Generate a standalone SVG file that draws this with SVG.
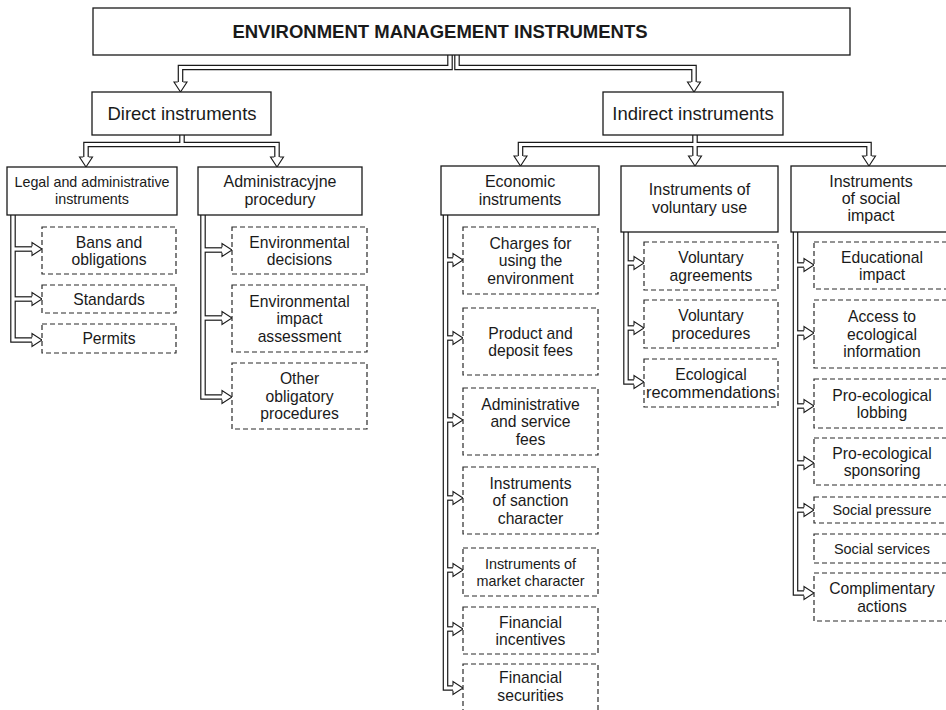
<svg xmlns="http://www.w3.org/2000/svg" xmlns:xlink="http://www.w3.org/1999/xlink" width="946" height="710" viewBox="0 0 946 710">
  <style>
    .box { fill: #fff; stroke: #1a1a1a; stroke-width: 1.3; }
    .dbox { fill: #fff; stroke: #2a2a2a; stroke-width: 1.2; stroke-dasharray: 5 3; }
    .po { fill: none; stroke: #1a1a1a; stroke-width: 5.6; stroke-linejoin: miter; }
    .pi { fill: none; stroke: #fff; stroke-width: 3.2; stroke-linejoin: miter; }
    .hd { fill: #fff; stroke: #1a1a1a; stroke-width: 1.1; stroke-linejoin: miter; }
    text { font-family: "Liberation Sans", Arial, sans-serif; fill: #1a1a1a; text-anchor: middle; }
    .title { font-size: 18.5px; font-weight: bold; }
    .t1 { font-size: 18.5px; }
    .t2 { font-size: 16px; }
    .t2s { font-size: 14.3px; }
    .t3 { font-size: 15.7px; }
    .t3s { font-size: 14.4px; }
  </style>
  <defs>
    <!-- centre lines of all double-line connectors -->
    <g id="pipes">
      <path d="M450 54 V67.5 H180.5 V82"/>
      <path d="M457 54 V67.5 H694 V82"/>
      <path d="M182 134 V144.5"/>
      <path d="M86 157 V144.5 H277 V157"/>
      <path d="M695 134 V156"/>
      <path d="M520.5 156 V144.5 H869 V156"/>
      <!-- legal and administrative instruments -->
      <path d="M13 213 V340 H32"/>
      <path d="M13 249 H32"/>
      <path d="M13 299 H32"/>
      <!-- administrative procedures -->
      <path d="M203 213 V397 H222"/>
      <path d="M203 250 H222"/>
      <path d="M203 318 H222"/>
      <!-- economic instruments -->
      <path d="M445.5 213 V688 H453"/>
      <path d="M445.5 260 H453"/>
      <path d="M445.5 338 H453"/>
      <path d="M445.5 420 H453"/>
      <path d="M445.5 498 H453"/>
      <path d="M445.5 570 H453"/>
      <path d="M445.5 629 H453"/>
      <!-- voluntary use -->
      <path d="M626 230 V382 H634"/>
      <path d="M626 263 H634"/>
      <path d="M626 328 H634"/>
      <!-- social impact -->
      <path d="M795.5 230 V593 H804"/>
      <path d="M795.5 265 H804"/>
      <path d="M795.5 333 H804"/>
      <path d="M795.5 406 H804"/>
      <path d="M795.5 463 H804"/>
      <path d="M795.5 510 H804"/>
    </g>
    <!-- open-based hollow arrowheads -->
    <path id="hdn" d="M-2.8 0 H-6.5 L0 10 L6.5 0 H2.8"/>
    <path id="hdr" d="M0 -2.8 V-6.5 L10 0 L0 6.5 V2.8"/>
  </defs>

  <g id="connectors">
    <use xlink:href="#pipes" class="po"/>
    <use xlink:href="#pipes" class="pi"/>
    <use xlink:href="#hdn" class="hd" x="180.5" y="82"/>
    <use xlink:href="#hdn" class="hd" x="694" y="82"/>
    <use xlink:href="#hdn" class="hd" x="86" y="157"/>
    <use xlink:href="#hdn" class="hd" x="277" y="157"/>
    <use xlink:href="#hdn" class="hd" x="520.5" y="156"/>
    <use xlink:href="#hdn" class="hd" x="695" y="156"/>
    <use xlink:href="#hdn" class="hd" x="869" y="156"/>
    <use xlink:href="#hdr" class="hd" x="32" y="249"/>
    <use xlink:href="#hdr" class="hd" x="32" y="299"/>
    <use xlink:href="#hdr" class="hd" x="32" y="340"/>
    <use xlink:href="#hdr" class="hd" x="222" y="250"/>
    <use xlink:href="#hdr" class="hd" x="222" y="318"/>
    <use xlink:href="#hdr" class="hd" x="222" y="397"/>
    <use xlink:href="#hdr" class="hd" x="453" y="260"/>
    <use xlink:href="#hdr" class="hd" x="453" y="338"/>
    <use xlink:href="#hdr" class="hd" x="453" y="420"/>
    <use xlink:href="#hdr" class="hd" x="453" y="498"/>
    <use xlink:href="#hdr" class="hd" x="453" y="570"/>
    <use xlink:href="#hdr" class="hd" x="453" y="629"/>
    <use xlink:href="#hdr" class="hd" x="453" y="688"/>
    <use xlink:href="#hdr" class="hd" x="634" y="263"/>
    <use xlink:href="#hdr" class="hd" x="634" y="328"/>
    <use xlink:href="#hdr" class="hd" x="634" y="382"/>
    <use xlink:href="#hdr" class="hd" x="804" y="265"/>
    <use xlink:href="#hdr" class="hd" x="804" y="333"/>
    <use xlink:href="#hdr" class="hd" x="804" y="406"/>
    <use xlink:href="#hdr" class="hd" x="804" y="463"/>
    <use xlink:href="#hdr" class="hd" x="804" y="510"/>
    <use xlink:href="#hdr" class="hd" x="804" y="593"/>
  </g>

  <!-- top level -->
  <g id="root">
    <rect class="box" x="93" y="8" width="757" height="47"/>
    <text class="title" x="440" y="38">ENVIRONMENT MANAGEMENT INSTRUMENTS</text>
  </g>
  <g id="direct">
    <rect class="box" x="92" y="92" width="179" height="43"/>
    <text class="t1" x="182" y="120">Direct instruments</text>
  </g>
  <g id="indirect">
    <rect class="box" x="603" y="92" width="180" height="43"/>
    <text class="t1" x="693" y="120">Indirect instruments</text>
  </g>

  <!-- second level -->
  <g id="legal">
    <rect class="box" x="7" y="167" width="170" height="48"/>
    <text class="t2s" x="92" y="187">Legal and administrative</text>
    <text class="t2s" x="92" y="204">instruments</text>
  </g>
  <g id="procedury">
    <rect class="box" x="198" y="167" width="164" height="48"/>
    <text class="t2" x="280" y="187">Administracyjne</text>
    <text class="t2" x="280" y="205">procedury</text>
  </g>
  <g id="economic">
    <rect class="box" x="441" y="166" width="158" height="49"/>
    <text class="t2" x="520" y="187">Economic</text>
    <text class="t2" x="520" y="205">instruments</text>
  </g>
  <g id="voluntary">
    <rect class="box" x="621" y="166" width="157" height="66"/>
    <text class="t2" x="699.5" y="195">Instruments of</text>
    <text class="t2" x="699.5" y="213">voluntary use</text>
  </g>
  <g id="social">
    <rect class="box" x="791" y="166" width="160" height="66"/>
    <text class="t2" x="871" y="187">Instruments</text>
    <text class="t2" x="871" y="204">of social</text>
    <text class="t2" x="871" y="221">impact</text>
  </g>

  <!-- legal and administrative instruments -->
  <g id="bans">
    <rect class="dbox" x="42" y="227" width="134" height="47"/>
    <text class="t3" x="109" y="247.5">Bans and</text>
    <text class="t3" x="109" y="265">obligations</text>
  </g>
  <g id="standards">
    <rect class="dbox" x="42" y="285" width="134" height="28"/>
    <text class="t3" x="109" y="305">Standards</text>
  </g>
  <g id="permits">
    <rect class="dbox" x="42" y="324" width="134" height="29"/>
    <text class="t3" x="109" y="344">Permits</text>
  </g>

  <!-- administrative procedures -->
  <g id="decisions">
    <rect class="dbox" x="232" y="227" width="135" height="47"/>
    <text class="t3" x="299.5" y="247.5">Environmental</text>
    <text class="t3" x="299.5" y="265">decisions</text>
  </g>
  <g id="eia">
    <rect class="dbox" x="232" y="285" width="135" height="67"/>
    <text class="t3" x="299.5" y="306.5">Environmental</text>
    <text class="t3" x="299.5" y="324">impact</text>
    <text class="t3" x="299.5" y="341.5">assessment</text>
  </g>
  <g id="other">
    <rect class="dbox" x="232" y="363" width="135" height="66"/>
    <text class="t3" x="299.5" y="384">Other</text>
    <text class="t3" x="299.5" y="401.5">obligatory</text>
    <text class="t3" x="299.5" y="419">procedures</text>
  </g>

  <!-- economic instruments -->
  <g id="charges">
    <rect class="dbox" x="463" y="227" width="135" height="67"/>
    <text class="t3" x="530.5" y="248.5">Charges for</text>
    <text class="t3" x="530.5" y="266">using the</text>
    <text class="t3" x="530.5" y="283.5">environment</text>
  </g>
  <g id="product">
    <rect class="dbox" x="463" y="308" width="135" height="67"/>
    <text class="t3" x="530.5" y="338.5">Product and</text>
    <text class="t3" x="530.5" y="356">deposit fees</text>
  </g>
  <g id="servicefees">
    <rect class="dbox" x="463" y="388" width="135" height="67"/>
    <text class="t3" x="530.5" y="409.5">Administrative</text>
    <text class="t3" x="530.5" y="427">and service</text>
    <text class="t3" x="530.5" y="444.5">fees</text>
  </g>
  <g id="sanction">
    <rect class="dbox" x="463" y="467" width="135" height="67"/>
    <text class="t3" x="530.5" y="488.5">Instruments</text>
    <text class="t3" x="530.5" y="506">of sanction</text>
    <text class="t3" x="530.5" y="523.5">character</text>
  </g>
  <g id="market">
    <rect class="dbox" x="463" y="548" width="135" height="48"/>
    <text class="t3s" x="530.5" y="568.5">Instruments of</text>
    <text class="t3s" x="530.5" y="586">market character</text>
  </g>
  <g id="incentives">
    <rect class="dbox" x="463" y="607" width="135" height="47"/>
    <text class="t3" x="530.5" y="627.5">Financial</text>
    <text class="t3" x="530.5" y="645">incentives</text>
  </g>
  <g id="securities">
    <rect class="dbox" x="463" y="664" width="135" height="54"/>
    <text class="t3" x="530.5" y="683">Financial</text>
    <text class="t3" x="530.5" y="700.5">securities</text>
  </g>

  <!-- voluntary use -->
  <g id="agreements">
    <rect class="dbox" x="644" y="242" width="134" height="48"/>
    <text class="t3" x="711" y="263">Voluntary</text>
    <text class="t3" x="711" y="280.5">agreements</text>
  </g>
  <g id="volprocedures">
    <rect class="dbox" x="644" y="300" width="134" height="48"/>
    <text class="t3" x="711" y="321">Voluntary</text>
    <text class="t3" x="711" y="338.5">procedures</text>
  </g>
  <g id="recommendations">
    <rect class="dbox" x="644" y="359" width="134" height="48"/>
    <text class="t3" x="711" y="380">Ecological</text>
    <text class="t3" x="711" y="397.5" textLength="130" lengthAdjust="spacingAndGlyphs">recommendations</text>
  </g>

  <!-- social impact -->
  <g id="educational">
    <rect class="dbox" x="814" y="242" width="136" height="47"/>
    <text class="t3" x="882" y="262.5">Educational</text>
    <text class="t3" x="882" y="280">impact</text>
  </g>
  <g id="access">
    <rect class="dbox" x="814" y="300" width="136" height="68"/>
    <text class="t3" x="882" y="322">Access to</text>
    <text class="t3" x="882" y="339.5">ecological</text>
    <text class="t3" x="882" y="357">information</text>
  </g>
  <g id="lobbing">
    <rect class="dbox" x="814" y="379" width="136" height="49"/>
    <text class="t3" x="882" y="400.5">Pro-ecological</text>
    <text class="t3" x="882" y="418">lobbing</text>
  </g>
  <g id="sponsoring">
    <rect class="dbox" x="814" y="438" width="136" height="47"/>
    <text class="t3" x="882" y="458.5">Pro-ecological</text>
    <text class="t3" x="882" y="476">sponsoring</text>
  </g>
  <g id="pressure">
    <rect class="dbox" x="814" y="497" width="136" height="26"/>
    <text class="t3s" x="882" y="515">Social pressure</text>
  </g>
  <g id="services">
    <rect class="dbox" x="814" y="534" width="136" height="29"/>
    <text class="t3s" x="882" y="553.5">Social services</text>
  </g>
  <g id="complimentary">
    <rect class="dbox" x="814" y="573" width="136" height="48"/>
    <text class="t3" x="882" y="594">Complimentary</text>
    <text class="t3" x="882" y="611.5">actions</text>
  </g>
</svg>
